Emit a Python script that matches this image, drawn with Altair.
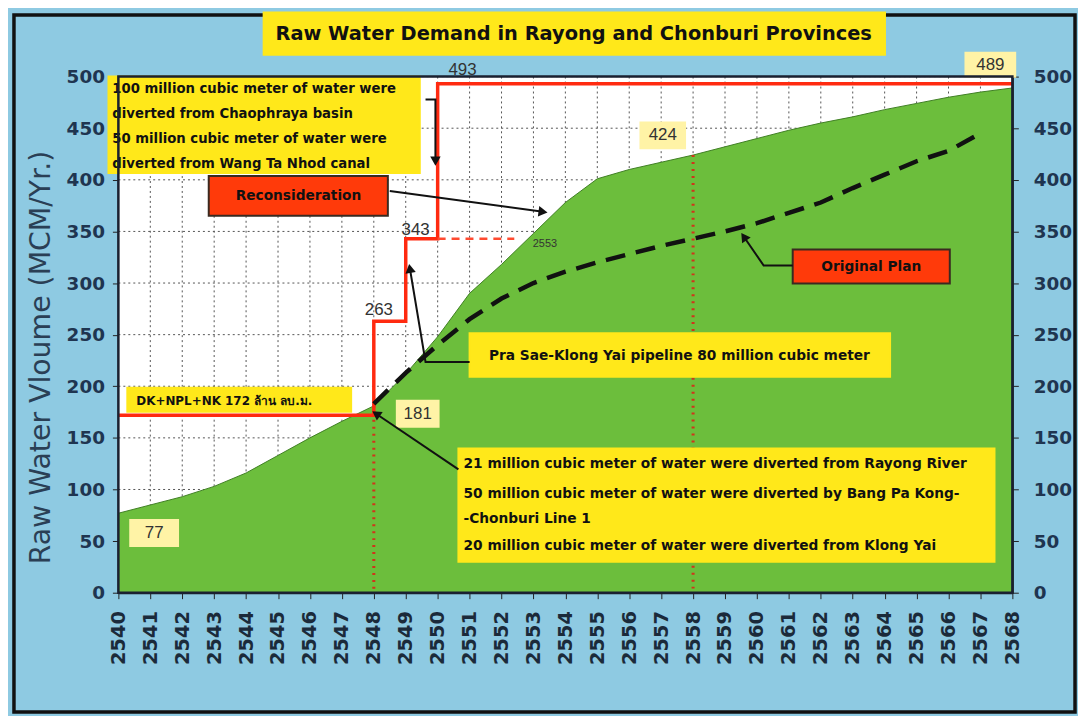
import math
import altair as alt
import pandas as pd

# ---------------- data ----------------
years = list(range(2540, 2569))
demand = [77, 85, 93, 103, 116, 133, 150, 166, 181, 212, 248, 290, 318, 348, 378,
          401, 410, 417, 424, 432, 440, 448, 455, 461, 468, 474, 480, 485, 489]

plan_years = list(range(2548, 2568))
plan_values = [183, 213, 240, 265, 285, 300, 311, 320, 328, 336, 343, 350, 358, 368,
               378, 392, 405, 418, 428, 445]

step_years = [2540, 2548, 2548, 2549, 2549, 2550, 2550, 2568]
step_values = [172, 172, 263, 263, 343, 343, 493, 493]

y_ticks = list(range(0, 501, 50))

# annotation boxes (year range, value range)
box_names = ["title", "topleft", "recon", "dk", "pipe", "bottom", "orig"]
box_x1 = [2544.55, 2539.69, 2542.83, 2540.28, 2551.00, 2550.65, 2561.12]
box_x2 = [2564.01, 2549.44, 2548.44, 2547.29, 2564.17, 2567.44, 2566.04]
box_y1 = [562.0, 500.0, 403.7, 198.5, 251.4, 139.7, 332.4]
box_y2 = [521.2, 406.5, 365.1, 175.3, 209.1, 29.9, 299.6]
box_fill = ["#FFE81A", "#FFE81A", "#FF3A0A", "#FFE81A", "#FFE81A", "#FFE81A", "#FF3A0A"]
box_stroke = ["#FFE81A", "#FFE81A", "#3a2a20", "#FFE81A", "#FFE81A", "#FFE81A", "#3a2a20"]

# value label boxes
lab_text = ["77", "181", "424", "489"]
lab_x1 = [2540.34, 2548.69, 2556.32, 2566.50]
lab_x2 = [2541.90, 2550.06, 2557.78, 2568.12]
lab_y1 = [71.3, 186.9, 456.6, 524.0]
lab_y2 = [44.3, 159.9, 429.7, 499.0]

free_text = ["263", "343", "493"]
free_x = [2548.16, 2549.31, 2550.78]
free_y = [273.6, 351.6, 506.7]

# annotation text lines
left_lines = [
    "100 million cubic meter of water were",
    "diverted from Chaophraya basin",
    "50 million cubic meter of water were",
    "diverted from Wang Ta Nhod canal",
]
left_x = [2539.81] * 4
left_y = [487.5, 463.4, 439.3, 415.2]

bottom_lines = [
    "21 million cubic meter of water were diverted from Rayong River",
    "50 million cubic meter of water were diverted by Bang Pa Kong-",
    "-Chonburi Line 1",
    "20 million cubic meter of water were diverted from Klong Yai",
]
bottom_x = [2550.81] * 4
bottom_y = [124.3, 95.4, 71.3, 45.3]

center_text = ["Reconsideration", "Pra Sae-Klong Yai pipeline 80 million cubic meter",
               "Original Plan"]
center_x = [2545.64, 2557.57, 2563.58]
center_y = [384.4, 229.3, 316.0]

dk_text = "DK+NPL+NK 172 ล้าน ลบ.ม."
dk_x, dk_y = 2540.56, 185.9

title_text = "Raw Water Demand in Rayong and Chonburi Provinces"
title_x, title_y = 2554.26, 541.0

# arrows: polylines (id, order, year, value); head at the last point
arrow_id = [1, 1, 2, 2, 2, 3, 3, 3, 4, 4, 5, 5, 5]
arrow_x = [2548.50, 2553.30,
           2549.62, 2549.93, 2549.93,
           2551.00, 2549.62, 2549.13,
           2550.65, 2548.07,
           2561.12, 2560.21, 2559.59]
arrow_y = [389.2, 369.0,
           477.8, 477.8, 418.1,
           223.5, 223.5, 314.1,
           119.5, 173.4,
           317.0, 317.0, 344.9]

marker_years = [2548, 2558]
marker_values = [181, 424]

# ---------------- geometry ----------------
W, H = 899, 519
PAD = {"left": 111, "top": 67, "right": 66, "bottom": 122}
XD = [2540, 2568]
YD = [0, 500]
FONT = "Liberation Sans"
BFONT = "DejaVu Sans"
px_per_year = W / (XD[1] - XD[0])
px_per_val = H / (YD[1] - YD[0])

xs = alt.Scale(domain=XD, nice=False, zero=False)
ys = alt.Scale(domain=YD, nice=False, zero=True)


def X(field, axis=None):
    return alt.X(field, type="quantitative", scale=xs, axis=axis)


def Y(field, axis=None):
    return alt.Y(field, type="quantitative", scale=ys, axis=axis)


one = pd.DataFrame({"a": [0]})

frame = alt.Chart(one).mark_rect(fill=None, stroke="#111111", strokeWidth=3.5).encode(
    x=alt.value(-105), x2=alt.value(W + 63), y=alt.value(-62), y2=alt.value(H + 120)
)
plotbg = alt.Chart(one).mark_rect(fill="white").encode(
    x=alt.value(0), x2=alt.value(W), y=alt.value(0), y2=alt.value(H)
)

vgrid = alt.Chart(pd.DataFrame({"year": years})).mark_rule(
    color="#555555", strokeDash=[2, 3], strokeWidth=1
).encode(x=X("year"), y=alt.value(0), y2=alt.value(H))
hgrid = alt.Chart(pd.DataFrame({"v": y_ticks})).mark_rule(
    color="#555555", strokeDash=[2, 3], strokeWidth=1
).encode(y=Y("v"), x=alt.value(0), x2=alt.value(W))

demand_df = pd.DataFrame({"year": years, "value": demand})
area = alt.Chart(demand_df).mark_area(color="#6CBE3C", opacity=1).encode(
    x=X("year"), y=Y("value")
)
area_edge = alt.Chart(demand_df).mark_line(color="#3f7f24", strokeWidth=1).encode(
    x=X("year"), y=Y("value")
)

left_axes = alt.Chart(demand_df).mark_point(opacity=0).encode(
    x=X("year", alt.Axis(values=years, format="d", labelAngle=270, labelFontSize=19.5,
                         labelFont=BFONT, labelFontWeight="bold", labelColor="#1b2a3a",
                         labelPadding=12, tickSize=6, tickColor="#222", domainColor="#222",
                         domainWidth=2, title="", grid=False, labelOverlap=False,
                         orient="bottom")),
    y=Y("value", alt.Axis(values=y_ticks, labelFontSize=18.5, labelFont=BFONT,
                          labelFontWeight="bold", labelColor="#1f3550", labelPadding=8,
                          tickSize=6, tickColor="#222", domainColor="#222", domainWidth=2,
                          grid=False, orient="left",
                          title="Raw Water Vloume (MCM/Yr.)", titleFont=BFONT,
                          titleFontSize=28.5, titleFontWeight="normal", titleColor="#2a3f55",
                          titleX=-78, titleY=282, titleAngle=270, titleAlign="center",
                          titleBaseline="middle")),
)

right_axis = alt.Chart(demand_df).mark_point(opacity=0).encode(
    x=X("year"),
    y=Y("value", alt.Axis(values=y_ticks, labelFontSize=18.5, labelFont=BFONT,
                          labelFontWeight="bold", labelColor="#1f3550", labelPadding=15,
                          tickSize=6, tickColor="#222", domainColor="#222", domainWidth=2,
                          grid=False, orient="right", title="")),
)

markers = alt.Chart(pd.DataFrame({"year": marker_years, "value": marker_values, "z": [0, 0]})).mark_rule(
    color="#D0341A", strokeDash=[2, 5], strokeWidth=3
).encode(x=X("year"), y=Y("value"), y2=alt.Y2("z"))

step_df = pd.DataFrame({"year": step_years, "value": step_values, "o": list(range(len(step_years)))})
step = alt.Chart(step_df).mark_line(color="#FF2A10", strokeWidth=3.5).encode(
    x=X("year"), y=Y("value"), order="o"
)
dash343 = alt.Chart(pd.DataFrame({"year": [2550, 2552.4], "value": [343, 343]})).mark_line(
    color="#FF4A30", strokeWidth=2.5, strokeDash=[8, 6]
).encode(x=X("year"), y=Y("value"))

plan = alt.Chart(pd.DataFrame({"year": plan_years, "value": plan_values})).mark_line(
    color="#111111", strokeWidth=4.5, strokeDash=[20, 11]
).encode(x=X("year"), y=Y("value"))

boxes = alt.Chart(pd.DataFrame({"n": box_names, "x1": box_x1, "x2": box_x2, "y1": box_y1,
                                "y2": box_y2, "f": box_fill, "s": box_stroke})).mark_rect(
    strokeWidth=2
).encode(x=X("x1"), x2="x2", y=Y("y1"), y2="y2",
         fill=alt.Fill("f:N", scale=None), stroke=alt.Stroke("s:N", scale=None))

lab_boxes = alt.Chart(pd.DataFrame({"x1": lab_x1, "x2": lab_x2, "y1": lab_y1, "y2": lab_y2})).mark_rect(
    fill="#FFF3A6"
).encode(x=X("x1"), x2="x2", y=Y("y1"), y2="y2")

lab_df = pd.DataFrame({"t": lab_text, "x": [(a + b) / 2 for a, b in zip(lab_x1, lab_x2)],
                       "y": [(a + b) / 2 for a, b in zip(lab_y1, lab_y2)]})
lab_txt = alt.Chart(lab_df).mark_text(font=FONT, fontSize=17, color="#333333",
                                      baseline="middle").encode(x=X("x"), y=Y("y"), text="t")
free_txt = alt.Chart(pd.DataFrame({"t": free_text, "x": free_x, "y": free_y})).mark_text(
    font=FONT, fontSize=17, color="#333333", baseline="middle"
).encode(x=X("x"), y=Y("y"), text="t")
small_txt = alt.Chart(pd.DataFrame({"t": ["2553"], "x": [2553.36], "y": [338.2]})).mark_text(
    font=FONT, fontSize=11, color="#333333", baseline="middle"
).encode(x=X("x"), y=Y("y"), text="t")

left_txt = alt.Chart(pd.DataFrame({"t": left_lines, "x": left_x, "y": left_y})).mark_text(
    font=BFONT, fontSize=13.3, fontWeight="bold", color="#111111", align="left", baseline="middle"
).encode(x=X("x"), y=Y("y"), text="t")
bottom_txt = alt.Chart(pd.DataFrame({"t": bottom_lines, "x": bottom_x, "y": bottom_y})).mark_text(
    font=BFONT, fontSize=13.8, fontWeight="bold", color="#111111", align="left", baseline="middle"
).encode(x=X("x"), y=Y("y"), text="t")
center_txt = alt.Chart(pd.DataFrame({"t": center_text, "x": center_x, "y": center_y})).mark_text(
    font=BFONT, fontSize=13.8, fontWeight="bold", color="#111111", align="center", baseline="middle"
).encode(x=X("x"), y=Y("y"), text="t")
dk_txt = alt.Chart(pd.DataFrame({"t": [dk_text], "x": [dk_x], "y": [dk_y]})).mark_text(
    font=BFONT, fontSize=12, fontWeight="bold", color="#111111", align="left", baseline="middle"
).encode(x=X("x"), y=Y("y"), text="t")
title_txt = alt.Chart(pd.DataFrame({"t": [title_text], "x": [title_x], "y": [title_y]})).mark_text(
    font=BFONT, fontSize=19.5, fontWeight="bold", color="#111111", align="center", baseline="middle"
).encode(x=X("x"), y=Y("y"), text="t")

arrow_df = pd.DataFrame({"id": arrow_id, "year": arrow_x, "value": arrow_y,
                         "o": list(range(len(arrow_id)))})
arrows = alt.Chart(arrow_df).mark_line(color="#111111", strokeWidth=2).encode(
    x=X("year"), y=Y("value"), detail="id:N", order="o"
)
# arrow heads
head_x, head_y, head_a = [], [], []
for aid in sorted(set(arrow_id)):
    idx = [i for i, a in enumerate(arrow_id) if a == aid]
    i1, i0 = idx[-1], idx[-2]
    dx = (arrow_x[i1] - arrow_x[i0]) * px_per_year
    dy = -(arrow_y[i1] - arrow_y[i0]) * px_per_val
    ang = math.degrees(math.atan2(dx, -dy)) % 360
    head_x.append(arrow_x[i1])
    head_y.append(arrow_y[i1])
    head_a.append(ang)
heads = alt.Chart(pd.DataFrame({"year": head_x, "value": head_y, "a": head_a})).mark_point(
    shape="triangle-up", filled=True, color="#111111", size=110, opacity=1
).encode(x=X("year"), y=Y("value"), angle=alt.Angle("a:Q", scale=None))

border = alt.Chart(one).mark_rect(fill=None, stroke="#1a2030", strokeWidth=2.5).encode(
    x=alt.value(0), x2=alt.value(W), y=alt.value(0), y2=alt.value(H)
)

chart = alt.layer(
    frame, plotbg, vgrid, hgrid, area, area_edge, markers, step, dash343, plan,
    boxes, lab_boxes, lab_txt, free_txt, small_txt, left_txt, bottom_txt,
    center_txt, dk_txt, title_txt, arrows, heads, border, left_axes, right_axis,
).resolve_axis(x="independent", y="independent").properties(
    width=W, height=H, padding=PAD, autosize=alt.AutoSizeParams(type="none"),
    background="#8ECAE2",
).configure_view(stroke=None).configure_axis(zindex=1)

chart.save("out.html", embed_options={"renderer": "svg", "actions": False})
